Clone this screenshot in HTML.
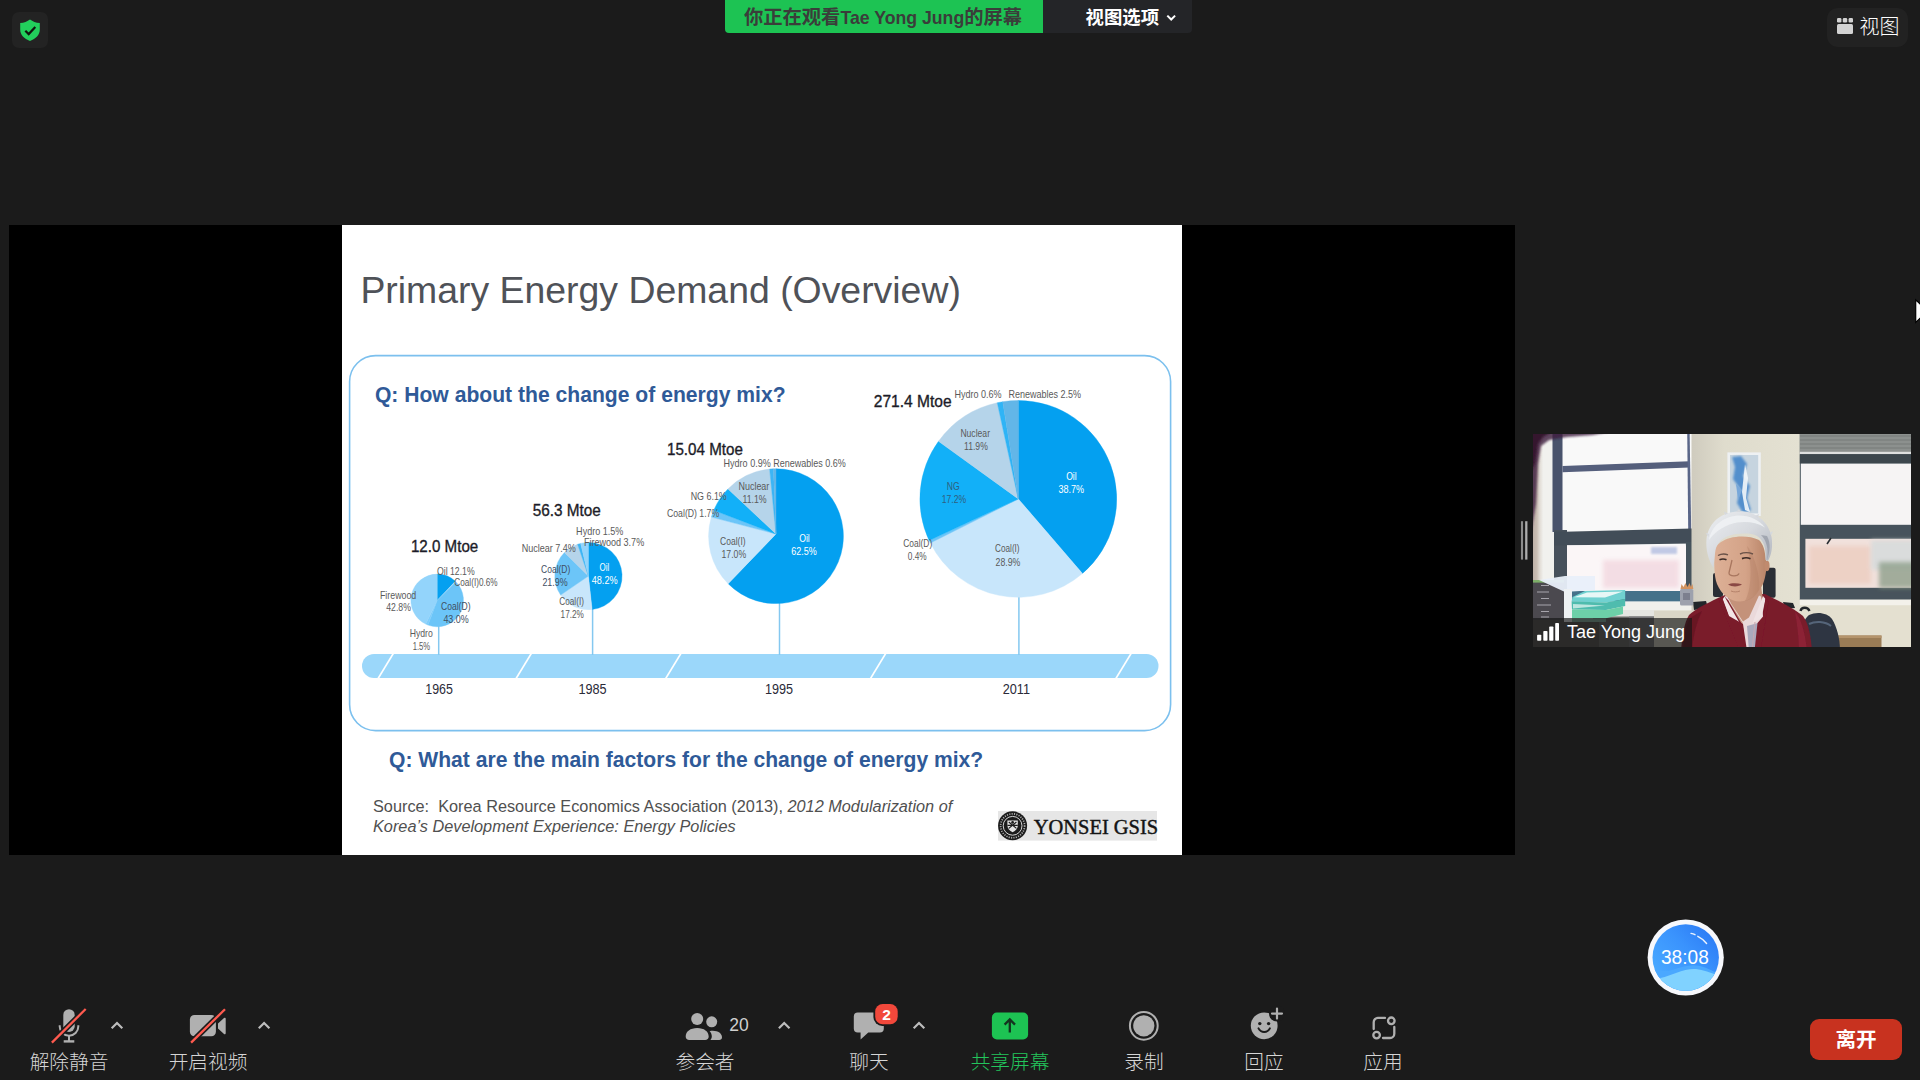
<!DOCTYPE html>
<html lang="zh-CN">
<head>
<meta charset="utf-8">
<title>Zoom Meeting</title>
<style>
html,body{margin:0;padding:0;}
body{width:1920px;height:1080px;overflow:hidden;background:#1b1b1b;position:relative;
 font-family:"Liberation Sans","Noto Sans CJK SC",sans-serif;color:#ccc;}
.abs{position:absolute;}
#share{left:9px;top:225px;width:1506px;height:630px;background:#000;}
#slide{left:342px;top:225px;width:840px;height:630px;background:#fff;}
svg{position:absolute;left:0;top:0;overflow:visible;}
svg text{font-family:"Liberation Sans","Noto Sans CJK SC",sans-serif;white-space:pre;}
.lbl{position:absolute;top:1048.2px;height:28px;line-height:28px;font-size:19.7px;color:#d6d6d6;white-space:nowrap;text-align:center;font-weight:300;}
#banner{left:725px;top:0;width:318px;height:33px;background:#1dc353;border-radius:0 0 0 4px;color:#3a3d3a;font-weight:bold;font-size:19.3px;line-height:33px;white-space:nowrap;}
#banner span{position:absolute;left:19px;top:1px;}
#banner span b{font-size:17.7px;}
#vopt{left:1043px;top:0;width:149px;height:33px;background:#242528;border-radius:0 0 4px 0;color:#fff;font-weight:bold;font-size:18.4px;line-height:33px;white-space:nowrap;}
#vopt span{position:absolute;left:42.500px;top:1px;}
#sec{left:12px;top:12px;width:36px;height:36px;border-radius:7px;background:#232323;}
#viewbtn{left:1827px;top:8px;width:81px;height:39px;border-radius:11px;background:#222;color:#fff;font-size:20px;line-height:36px;font-weight:300;}
#viewbtn span{position:absolute;left:32.500px;top:0.500px;}
#leave{left:1810px;top:1019px;width:92px;height:41px;border-radius:9px;background:#c8321f;color:#fff;font-weight:bold;font-size:20.6px;line-height:42.500px;text-align:center;}
#vname{left:1533px;top:617.6px;width:159px;height:29.4px;background:rgba(22,22,22,0.66);}
#vname span{position:absolute;left:34px;top:0.5px;line-height:28px;font-size:18px;color:#fff;white-space:nowrap;}
#timer{left:1647px;top:919px;width:77px;height:77px;border-radius:50%;background:#eef1f8;}
#timer i{position:absolute;left:5px;top:5px;width:67px;height:67px;border-radius:50%;overflow:hidden;background:linear-gradient(160deg,#4a9bff 0%,#2f80f6 60%,#3d8cf8 100%);}
#timer b{position:absolute;left:0;top:0;width:77px;line-height:77px;text-align:center;font-weight:400;font-size:18.5px;color:#fff;}
</style>
</head>
<body>
<div id="share" class="abs"></div>
<div id="slide" class="abs"></div>

<!-- slide content, page coordinates -->
<svg width="1920" height="1080" viewBox="0 0 1920 1080">
<text x="360.4" y="303" font-size="37.4" fill="#4f5258">Primary Energy Demand (Overview)</text>
<rect x="349.6" y="355.6" width="821" height="375" rx="26" ry="26" fill="#fff" stroke="#7cc0ee" stroke-width="1.6"/>
<text x="374.900" y="401.900" font-size="22.600" font-weight="bold" fill="#2f5a98" textLength="410.700" lengthAdjust="spacingAndGlyphs">Q: How about the change of energy mix?</text>
<text x="389" y="766.500" font-size="22.600" font-weight="bold" fill="#2f5a98" textLength="594.200" lengthAdjust="spacingAndGlyphs">Q: What are the main factors for the change of energy mix?</text>
<text x="373" y="812" font-size="16.3" fill="#505050">Source:  Korea Resource Economics Association (2013), <tspan font-style="italic">2012 Modularization of</tspan></text>
<text x="373" y="831.8" font-size="16.3" font-style="italic" fill="#505050">Korea’s Development Experience: Energy Policies</text>
<!-- timeline -->
<rect x="362" y="654" width="796.5" height="24" rx="12" fill="#9bd7fa"/>
<path d="M393.6 653L377.8 679" stroke="#fff" stroke-width="1.6"/>
<path d="M531.6 653L515.8 679" stroke="#fff" stroke-width="1.6"/>
<path d="M681.2 653L665.4 679" stroke="#fff" stroke-width="1.6"/>
<path d="M886.0 653L870.2 679" stroke="#fff" stroke-width="1.6"/>
<path d="M1131.4 653L1115.6 679" stroke="#fff" stroke-width="1.6"/>
<path d="M438.7 626V655" stroke="#84c8f0" stroke-width="1.5"/>
<path d="M592.6 609V655" stroke="#84c8f0" stroke-width="1.5"/>
<path d="M779.5 603V655" stroke="#84c8f0" stroke-width="1.5"/>
<path d="M1018.9 597V655" stroke="#84c8f0" stroke-width="1.5"/>
<path d="M437.2 600.4L437.20 574.10A26.3 26.3 0 0 1 455.32 581.34Z" fill="#04a0f0" stroke="#04a0f0" stroke-width="0.4"/>
<path d="M437.2 600.4L455.32 581.34A26.3 26.3 0 0 1 456.03 582.04Z" fill="#a8dcfb" stroke="#a8dcfb" stroke-width="0.4"/>
<path d="M437.2 600.4L456.03 582.04A26.3 26.3 0 0 1 427.98 625.03Z" fill="#6cc5f8" stroke="#6cc5f8" stroke-width="0.4"/>
<path d="M437.2 600.4L427.98 625.03A26.3 26.3 0 0 1 425.70 624.05Z" fill="#7fcdfb" stroke="#7fcdfb" stroke-width="0.4"/>
<path d="M437.2 600.4L425.70 624.05A26.3 26.3 0 0 1 437.20 574.10Z" fill="#93d4fb" stroke="#93d4fb" stroke-width="0.4"/>
<path d="M588.4 576.1L588.40 542.50A33.6 33.6 0 0 1 592.09 609.50Z" fill="#04a0f0" stroke="#04a0f0" stroke-width="0.4"/>
<path d="M588.4 576.1L592.09 609.50A33.6 33.6 0 0 1 560.65 595.05Z" fill="#c8e6fb" stroke="#c8e6fb" stroke-width="0.4"/>
<path d="M588.4 576.1L560.65 595.05A33.6 33.6 0 0 1 564.47 552.51Z" fill="#6cc5f8" stroke="#6cc5f8" stroke-width="0.4"/>
<path d="M588.4 576.1L564.47 552.51A33.6 33.6 0 0 1 577.61 544.28Z" fill="#b5d4ea" stroke="#b5d4ea" stroke-width="0.4"/>
<path d="M588.4 576.1L577.61 544.28A33.6 33.6 0 0 1 580.65 543.41Z" fill="#3db5f5" stroke="#3db5f5" stroke-width="0.4"/>
<path d="M588.4 576.1L580.65 543.41A33.6 33.6 0 0 1 588.40 542.50Z" fill="#93d4fb" stroke="#93d4fb" stroke-width="0.4"/>
<path d="M776.0 534.0L776.00 468.80A67.4 67.4 0 1 1 728.15 583.67Z" fill="#04a0f0" stroke="#04a0f0" stroke-width="0.4"/>
<path d="M776.0 534.0L728.15 583.67A67.4 67.4 0 0 1 711.37 517.07Z" fill="#c8e6fb" stroke="#c8e6fb" stroke-width="0.4"/>
<path d="M776.0 534.0L711.37 517.07A67.4 67.4 0 0 1 713.78 510.28Z" fill="#6cc5f8" stroke="#6cc5f8" stroke-width="0.4"/>
<path d="M776.0 534.0L713.78 510.28A67.4 67.4 0 0 1 728.00 488.88Z" fill="#12b0f8" stroke="#12b0f8" stroke-width="0.4"/>
<path d="M776.0 534.0L728.00 488.88A67.4 67.4 0 0 1 769.65 469.10Z" fill="#b5d4ea" stroke="#b5d4ea" stroke-width="0.4"/>
<path d="M776.0 534.0L769.65 469.10A67.4 67.4 0 0 1 773.46 468.85Z" fill="#3db5f5" stroke="#3db5f5" stroke-width="0.4"/>
<path d="M776.0 534.0L773.46 468.85A67.4 67.4 0 0 1 776.00 468.80Z" fill="#62b6e8" stroke="#62b6e8" stroke-width="0.4"/>
<path d="M1018.3 498.9L1018.30 400.50A98.4 98.4 0 0 1 1082.44 573.52Z" fill="#04a0f0" stroke="#04a0f0" stroke-width="0.4"/>
<path d="M1018.3 498.9L1082.44 573.52A98.4 98.4 0 0 1 930.35 543.02Z" fill="#c8e6fb" stroke="#c8e6fb" stroke-width="0.4"/>
<path d="M1018.3 498.9L930.35 543.02A98.4 98.4 0 0 1 929.13 540.52Z" fill="#6cc5f8" stroke="#6cc5f8" stroke-width="0.4"/>
<path d="M1018.3 498.9L929.13 540.52A98.4 98.4 0 0 1 938.51 441.31Z" fill="#12b0f8" stroke="#12b0f8" stroke-width="0.4"/>
<path d="M1018.3 498.9L938.51 441.31A98.4 98.4 0 0 1 997.26 402.78Z" fill="#b5d4ea" stroke="#b5d4ea" stroke-width="0.4"/>
<path d="M1018.3 498.9L997.26 402.78A98.4 98.4 0 0 1 1002.72 401.74Z" fill="#2fb4f6" stroke="#2fb4f6" stroke-width="0.4"/>
<path d="M1018.3 498.9L1002.72 401.74A98.4 98.4 0 0 1 1018.30 400.50Z" fill="#62b6e8" stroke="#62b6e8" stroke-width="0.4"/>
<g>
<text x="410.9" y="551.7" textLength="67.4" lengthAdjust="spacingAndGlyphs" font-size="16.5" fill="#1c1c28" stroke="#1c1c28" stroke-width="0.35">12.0 Mtoe</text>
<text x="532.7" y="516.4" textLength="68.1" lengthAdjust="spacingAndGlyphs" font-size="16.5" fill="#1c1c28" stroke="#1c1c28" stroke-width="0.35">56.3 Mtoe</text>
<text x="667.0" y="454.6" textLength="75.9" lengthAdjust="spacingAndGlyphs" font-size="16.5" fill="#1c1c28" stroke="#1c1c28" stroke-width="0.35">15.04 Mtoe</text>
<text x="873.8" y="406.7" textLength="77.8" lengthAdjust="spacingAndGlyphs" font-size="16.5" fill="#1c1c28" stroke="#1c1c28" stroke-width="0.35">271.4 Mtoe</text>
<text x="425.3" y="694.2" textLength="27.6" lengthAdjust="spacingAndGlyphs" font-size="14.5" fill="#2a2a38">1965</text>
<text x="578.4" y="694.2" textLength="28.2" lengthAdjust="spacingAndGlyphs" font-size="14.5" fill="#2a2a38">1985</text>
<text x="765.0" y="694.2" textLength="28.1" lengthAdjust="spacingAndGlyphs" font-size="14.5" fill="#2a2a38">1995</text>
<text x="1002.7" y="694.2" textLength="27.3" lengthAdjust="spacingAndGlyphs" font-size="14.5" fill="#2a2a38">2011</text>
<text x="437.0" y="575.1" textLength="37.7" lengthAdjust="spacingAndGlyphs" font-size="10.3" fill="#5a5a5a">Oil 12.1%</text>
<text x="454.3" y="585.6" textLength="43.3" lengthAdjust="spacingAndGlyphs" font-size="10.3" fill="#5a5a5a">Coal(I)0.6%</text>
<text x="379.9" y="598.6" textLength="36.4" lengthAdjust="spacingAndGlyphs" font-size="10.3" fill="#5a5a5a">Firewood</text>
<text x="386.3" y="611.3" textLength="24.6" lengthAdjust="spacingAndGlyphs" font-size="10.3" fill="#5a5a5a">42.8%</text>
<text x="441.0" y="609.5" textLength="29.5" lengthAdjust="spacingAndGlyphs" font-size="10.3" fill="#3f4f63">Coal(D)</text>
<text x="443.4" y="622.7" textLength="25.3" lengthAdjust="spacingAndGlyphs" font-size="10.3" fill="#3f4f63">43.0%</text>
<text x="409.7" y="637.1" textLength="23.1" lengthAdjust="spacingAndGlyphs" font-size="10.3" fill="#5a5a5a">Hydro</text>
<text x="412.7" y="650.4" textLength="17.5" lengthAdjust="spacingAndGlyphs" font-size="10.3" fill="#5a5a5a">1.5%</text>
<text x="576.1" y="534.5" textLength="47.3" lengthAdjust="spacingAndGlyphs" font-size="10.3" fill="#5a5a5a">Hydro 1.5%</text>
<text x="583.9" y="546.2" textLength="60.3" lengthAdjust="spacingAndGlyphs" font-size="10.3" fill="#5a5a5a">Firewood 3.7%</text>
<text x="521.7" y="552.0" textLength="54.2" lengthAdjust="spacingAndGlyphs" font-size="10.3" fill="#5a5a5a">Nuclear 7.4%</text>
<text x="541.1" y="572.8" textLength="29.2" lengthAdjust="spacingAndGlyphs" font-size="10.3" fill="#3f4f63">Coal(D)</text>
<text x="542.4" y="585.8" textLength="25.3" lengthAdjust="spacingAndGlyphs" font-size="10.3" fill="#3f4f63">21.9%</text>
<text x="599.5" y="570.8" textLength="9.7" lengthAdjust="spacingAndGlyphs" font-size="10.3" fill="#fff">Oil</text>
<text x="591.7" y="583.8" textLength="25.9" lengthAdjust="spacingAndGlyphs" font-size="10.3" fill="#fff">48.2%</text>
<text x="559.3" y="604.6" textLength="24.6" lengthAdjust="spacingAndGlyphs" font-size="10.3" fill="#5a5a5a">Coal(I)</text>
<text x="560.6" y="617.5" textLength="23.3" lengthAdjust="spacingAndGlyphs" font-size="10.3" fill="#5a5a5a">17.2%</text>
<text x="723.6" y="466.6" textLength="122.2" lengthAdjust="spacingAndGlyphs" font-size="10.3" fill="#5a5a5a">Hydro 0.9% Renewables 0.6%</text>
<text x="738.5" y="490.1" textLength="30.8" lengthAdjust="spacingAndGlyphs" font-size="10.3" fill="#5a5a5a">Nuclear</text>
<text x="742.4" y="503.0" textLength="24.3" lengthAdjust="spacingAndGlyphs" font-size="10.3" fill="#5a5a5a">11.1%</text>
<text x="690.7" y="500.3" textLength="36.1" lengthAdjust="spacingAndGlyphs" font-size="10.3" fill="#5a5a5a">NG 6.1%</text>
<text x="667.0" y="517.0" textLength="52.2" lengthAdjust="spacingAndGlyphs" font-size="10.3" fill="#5a5a5a">Coal(D) 1.7%</text>
<text x="720.0" y="545.2" textLength="25.6" lengthAdjust="spacingAndGlyphs" font-size="10.3" fill="#5a5a5a">Coal(I)</text>
<text x="721.5" y="558.0" textLength="24.6" lengthAdjust="spacingAndGlyphs" font-size="10.3" fill="#5a5a5a">17.0%</text>
<text x="799.2" y="541.7" textLength="10.6" lengthAdjust="spacingAndGlyphs" font-size="10.3" fill="#fff">Oil</text>
<text x="791.3" y="554.9" textLength="25.5" lengthAdjust="spacingAndGlyphs" font-size="10.3" fill="#fff">62.5%</text>
<text x="954.4" y="398.2" textLength="47.2" lengthAdjust="spacingAndGlyphs" font-size="10.3" fill="#5a5a5a">Hydro 0.6%</text>
<text x="1008.4" y="398.2" textLength="72.7" lengthAdjust="spacingAndGlyphs" font-size="10.3" fill="#5a5a5a">Renewables 2.5%</text>
<text x="960.4" y="436.7" textLength="29.6" lengthAdjust="spacingAndGlyphs" font-size="10.3" fill="#5a5a5a">Nuclear</text>
<text x="964.0" y="449.6" textLength="23.8" lengthAdjust="spacingAndGlyphs" font-size="10.3" fill="#5a5a5a">11.9%</text>
<text x="946.7" y="490.0" textLength="12.9" lengthAdjust="spacingAndGlyphs" font-size="10.3" fill="#2f5f80">NG</text>
<text x="941.8" y="503.3" textLength="24.4" lengthAdjust="spacingAndGlyphs" font-size="10.3" fill="#2f5f80">17.2%</text>
<text x="1066.2" y="479.6" textLength="10.5" lengthAdjust="spacingAndGlyphs" font-size="10.3" fill="#fff">Oil</text>
<text x="1058.4" y="492.7" textLength="25.6" lengthAdjust="spacingAndGlyphs" font-size="10.3" fill="#fff">38.7%</text>
<text x="995.1" y="552.2" textLength="24.5" lengthAdjust="spacingAndGlyphs" font-size="10.3" fill="#5a5a5a">Coal(I)</text>
<text x="995.6" y="565.6" textLength="24.8" lengthAdjust="spacingAndGlyphs" font-size="10.3" fill="#5a5a5a">28.9%</text>
<text x="903.3" y="547.1" textLength="28.9" lengthAdjust="spacingAndGlyphs" font-size="10.3" fill="#5a5a5a">Coal(D)</text>
<text x="907.8" y="560.0" textLength="18.9" lengthAdjust="spacingAndGlyphs" font-size="10.3" fill="#5a5a5a">0.4%</text>
</g>
<!-- logo -->
<rect x="998" y="811" width="159" height="29.6" fill="#e6e6e6"/>
<circle cx="1012.6" cy="825.8" r="14.5" fill="#1c1c1c"/>
<circle cx="1012.6" cy="825.8" r="12" fill="none" stroke="#d8d8d8" stroke-width="1.7" stroke-dasharray="1.1 1.3" opacity=".8"/>
<circle cx="1012.6" cy="825.8" r="9.4" fill="none" stroke="#e8e8e8" stroke-width="0.9"/>
<path d="M1007.4 820.4h10.400v4.800c0 3.300-2.200 5.500-5.200 7c-3-1.500-5.200-3.700-5.200-7z" fill="#e4e4e4"/>
<path d="M1008.8 822l7.600 6.400M1016.400 822l-7.600 6.400M1007.4 825.400h10.400" stroke="#1c1c1c" stroke-width="1.200"/>
<circle cx="1012.6" cy="822.400" r="1.400" fill="#1c1c1c"/>
<text x="1033.700" y="833.900" font-size="21.800" style="font-family:'Liberation Serif',serif" fill="#141414" stroke="#141414" stroke-width="0.450" textLength="124.500" lengthAdjust="spacingAndGlyphs">YONSEI GSIS</text>
</svg>

<!-- top bar -->
<div id="sec" class="abs"></div>
<div id="banner" class="abs"><span>你正在观看<b>Tae Yong Jung</b>的屏幕</span></div>
<div id="vopt" class="abs"><span>视图选项</span></div>
<div id="viewbtn" class="abs"><span>视图</span></div>



<!-- video thumbnail -->
<svg style="left:1533px;top:434px" width="378" height="213" viewBox="0 0 378 213">
<defs><filter id="vb" x="-2%" y="-2%" width="104%" height="104%"><feGaussianBlur stdDeviation="0.75"/></filter>
<filter id="vb2" x="-20%" y="-20%" width="140%" height="140%"><feGaussianBlur stdDeviation="2.2"/></filter>
<filter id="vb3" x="-20%" y="-20%" width="140%" height="140%"><feGaussianBlur stdDeviation="1.2"/></filter>
<clipPath id="vc"><rect x="0" y="0" width="378" height="213"/></clipPath>
<linearGradient id="lw" x1="0" y1="0" x2="1" y2="0"><stop offset="0" stop-color="#b3a49c"/><stop offset="0.3" stop-color="#c9beb3"/><stop offset="0.42" stop-color="#e2ddd6"/><stop offset="0.55" stop-color="#f1f1ee"/><stop offset="1" stop-color="#f1f1ee"/></linearGradient>
<linearGradient id="fc" x1="0" y1="0" x2="1" y2="0"><stop offset="0" stop-color="#ddb096"/><stop offset="0.6" stop-color="#d4a388"/><stop offset="1" stop-color="#b98569"/></linearGradient>
<linearGradient id="hr" x1="0" y1="0" x2="1" y2="1"><stop offset="0" stop-color="#eceef1"/><stop offset="0.5" stop-color="#d6d9de"/><stop offset="1" stop-color="#adb1ba"/></linearGradient>
<linearGradient id="wl" x1="0" y1="0" x2="1" y2="0"><stop offset="0" stop-color="#cfcbbe"/><stop offset="0.3" stop-color="#dfdccd"/><stop offset="1" stop-color="#e4e1d2"/></linearGradient>
</defs>
<g clip-path="url(#vc)"><g filter="url(#vb)">
<rect x="-4" y="-4" width="386" height="221" fill="#e2dfce"/>
<!-- left wall strip -->
<rect x="-4" y="-4" width="26" height="160" fill="url(#lw)"/>
<!-- left window: glass -->
<rect x="21" y="-4" width="138" height="172" fill="#f9f9f9"/>
<!-- frames -->
<path d="M19.500 -4h10v102h-10z" fill="#48536c"/>
<path d="M21 96h13v72h-13z" fill="#46515b"/>
<path d="M29.500 32L156.500 27.300v6.200L29.500 38.200z" fill="#545e7c"/>
<path d="M154.200 -4h2.400l1.600 100h-3z" fill="#5a6688"/>
<path d="M21 98L159 94.600V109.500L21 111.400z" fill="#434e58"/>
<path d="M152.900 108h6.300v60h-6.300z" fill="#45525c"/>
<!-- bottom pane tint -->
<rect x="34" y="111.400" width="119" height="46" fill="#fbf6f7"/>
<rect x="70" y="126" width="76" height="28" fill="#f1d3dc" opacity=".7" filter="url(#vb2)"/>
<rect x="118" y="113" width="26" height="7" fill="#a9b7de" opacity=".7" filter="url(#vb3)"/>
<!-- bottom frame & sill -->
<rect x="21" y="157" width="138" height="10.600" fill="#44718a"/>
<rect x="21" y="167.600" width="140" height="9" fill="#f0f0ec"/>
<!-- top-left dark purple vignette -->
<path d="M-4 -4h90L60 1L34 3L16 6L8 12L5 30L3 70L-4 110z" fill="#3c1d3e" opacity=".8" filter="url(#vb3)"/>
<path d="M-4 -4h26L10 3L5 10L2 30L-4 40z" fill="#35152f" filter="url(#vb3)"/>
<!-- wall between windows -->
<rect x="158.500" y="-4" width="109" height="221" fill="url(#wl)"/>
<!-- picture -->
<rect x="194.400" y="18.400" width="33.400" height="63.600" fill="#eef1f3"/>
<rect x="197" y="21" width="28.200" height="58.400" fill="#c6d4df"/>
<path d="M199 23l9-1l6 8l-4 12l7 10l-3 12l4 12l-8 3l-6-10l3-14l-7-10l2-12z" fill="#3f83c9" opacity=".85" filter="url(#vb3)"/>
<path d="M212 30l3 14l-2 20l4 14l-5-2l-3-18z" fill="#f2f6fa" opacity=".9"/>
<path d="M203 50l6 6l-4 10z" fill="#78a8da"/>
<!-- right window -->
<rect x="266.800" y="-4" width="116" height="170" fill="#47535b"/>
<rect x="266.800" y="-4" width="116" height="22.500" fill="#8c908e"/>
<g stroke="#777b79" stroke-width="1"><path d="M267 2h112M267 6h112M267 10h112M267 14h112"/></g>
<rect x="266.800" y="17.800" width="116" height="2.400" fill="#dfe0df"/>
<rect x="266.800" y="20.200" width="116" height="9.400" fill="#3c474e"/>
<rect x="267.800" y="29.600" width="115" height="61.200" fill="#f6f4f4"/>
<rect x="272.400" y="104.800" width="110" height="49" fill="#f1e1dc"/>
<rect x="276" y="112" width="62" height="38" fill="#ebc4b4" opacity=".55" filter="url(#vb2)"/>
<rect x="338" y="106" width="46" height="30" fill="#d8dcdc" opacity=".9" filter="url(#vb2)"/>
<rect x="346" y="128" width="38" height="26" fill="#8fa08c" opacity=".8" filter="url(#vb2)"/>
<path d="M298 104l-4 6" stroke="#2a2f33" stroke-width="1.600"/>
<rect x="266.800" y="165.500" width="116" height="6" fill="#f3f1ea"/>
<rect x="266.800" y="171.500" width="116" height="46" fill="#e4e0d0"/>
<!-- wooden box -->
<rect x="304" y="201.500" width="44.500" height="14" fill="#9a7b57"/>
<rect x="304" y="201.500" width="44.500" height="2.500" fill="#b4946c"/>
<!-- bag -->
<path d="M267 217c0-12 1-30 9-36c8-4 19-2 23 4c5 8 8 20 8 32z" fill="#2f3642"/>
<path d="M276 190c6-3 16-3 22 2" stroke="#55657a" stroke-width="2" fill="none"/>
<path d="M267.500 177c1-4 7-4.500 9 0" fill="none" stroke="#22252b" stroke-width="2.400"/>
<!-- chair -->
<rect x="230" y="133.800" width="12.600" height="30" rx="2" fill="#2c2e34"/>
<rect x="180" y="139" width="10" height="24" rx="2" fill="#2c2e34"/>
<path d="M160 168l13-1l2 7l-14 2z" fill="#24262b"/>
<path d="M250 168l10 1l2 5l-10 1z" fill="#24262b"/>
<!-- pencil cup -->
<rect x="147" y="155" width="13.300" height="16.600" rx="1.500" fill="#9da1ad"/>
<rect x="150" y="159" width="7" height="7" fill="#7b7f8e"/>
<path d="M147.500 155l1-5l2 3l2-4l2 4l2-4l1.500 4l1.500-3l.8 5z" fill="#d3935f"/>
<!-- wall under sill, cabinet -->
<rect x="121" y="176.600" width="40" height="40" fill="#dad6c7"/>
<path d="M76 176h45v7h-45z" fill="#e5e5e1"/>
<path d="M60 182.500h61v35h-61z" fill="#6b6a67"/>
<path d="M96 182.500h25v35h-25z" fill="#77767a"/>
<!-- drawer unit -->
<rect x="-4" y="146.400" width="35" height="44" fill="#4c4a50"/>
<rect x="-4" y="146" width="35" height="2.600" fill="#7dae69"/>
<g stroke="#a6a4ac" stroke-width="1.100"><path d="M8 151.500h8M4 158h12M8 164.500h8M4 171h14M8 177.500h8M8 183h8"/></g>
<rect x="-4" y="186" width="70" height="31" fill="#545250"/>
<!-- documents & stand -->
<path d="M6 146l26-4l30 0v14l-30 2z" fill="#e9effa" opacity=".95"/>
<rect x="31" y="155" width="8" height="33" fill="#eef1f3"/>
<!-- trays -->
<path d="M52 157L92.200 156V165L73.200 168.600L38.600 167.600L39.500 163z" fill="#6fd1d0"/>
<path d="M54 158.500L90 157.600L72 163.500L41 163.300z" fill="#e6f7f6"/>
<path d="M38.600 167.600L73.200 168.600L92.200 165V172L73 176L39 175.600z" fill="#4fbcae"/>
<path d="M39 175.600L73 176L90 172.500V180L72 184.500L39 184.500z" fill="#6dd0a8"/>
<path d="M40 170l32 1.500l-32 3z" fill="#d8f0ec" opacity=".8"/>
<path d="M39 184.500h34v3.500h-34z" fill="#8bb8a8"/>
<!-- man: sweater -->
<path d="M148 217c1-14 3-28 8-36c6-6 22-14 36-20l40-1c12 6 28 14 38 22c6 8 8 22 9 35z" fill="#7a1a2c"/>
<path d="M150 217c0-10 2-24 7-33l12-7c-6 12-9 26-10 40z" fill="#681424"/>
<path d="M262 178c6 6 10 20 12 39h-8c0-14-2-28-4-39z" fill="#8c2236"/>
<!-- neck -->
<path d="M194 152h34l2 14l-12 22l-8 4l-14-24z" fill="#c4927a"/>
<!-- shirt -->
<path d="M191.500 162.500l4 4l14 22l3 28h12l6-30l-2.500-24l-2-1l-10 22l-6 4l-12-18l-4-8z" fill="#ead9da"/>
<path d="M191.500 162.500l-2 3l7 19l11 6z" fill="#f2e6e6"/>
<path d="M230 162l2.500 3l-4 19l-9 5z" fill="#efe2e3"/>
<path d="M214 192l2 25h6l3-28z" fill="#9a9cb4" opacity=".8"/>
<path d="M203 186l4 31M222 188l-3 29" stroke="#c7a9b2" stroke-width="1"/>
<!-- sweater V edges -->
<path d="M189 163l-3 4l21 50h7l-4-27l-14-8z" fill="#7a1a2c"/>
<path d="M232.500 163l3 5l-8 49h-6l3-28l6-7z" fill="#7a1a2c"/>
<!-- face -->
<path d="M182 116c-1.200 12-1 26 2 34c4 10 13 17.500 23 17.500s19-9 23-17.500c3-8 4.500-18 2.500-26c-.5-8-2.500-14-6.500-18c-12-6-30-4-38 2c-4 3-5.500 5-6 8z" fill="url(#fc)"/>
<ellipse cx="234" cy="132" rx="2.600" ry="5.200" fill="#c08a6e"/>
<path d="M214 112c6 6 14 30 12 44c-3 6-9 10-14 11c6-10 8-34 2-55z" fill="#b07a60" opacity=".35"/>
<!-- features -->
<path d="M185 121.500c3-1.600 7-1.800 10-.6M207 120c4-1.800 9-1.600 13 0" stroke="#6a5248" stroke-width="1.400" fill="none"/>
<path d="M186.500 125.800c2-.9 5-.9 7 0M209 124.600c2.500-1 6-1 8.500 .2" stroke="#3a2a26" stroke-width="1.700" fill="none"/>
<path d="M199 126c-1 5-2.500 10-3 13c0 2 2 2.800 5 2.800c2.500 0 4.500-.8 5-2.400" stroke="#a8765e" stroke-width="1.300" fill="none"/>
<path d="M195 150.500c3-1.600 9-1.800 14-.2c-3 2.600-10 3-14 .2z" fill="#8a4a44"/>
<path d="M198 157c3 1.200 6 1.200 9 0" stroke="#b5826a" stroke-width="1" fill="none"/>
<!-- hair -->
<path d="M180.500 134c-5-8-8-18-7-29c1.500-14 12-26 30-27.500c18-1.500 32 9.500 35 25.500c1.500 9 0 18-3.500 24l-2.500-1c.5-8-.5-15-3.500-19c-3-5-8-7-14-7.500c-8-.5-16 .5-22 3.500c-6 3-9.500 8-10.500 13c-1 6-1.500 13-2 18z" fill="url(#hr)"/>
<path d="M176 106c2-13 13-23 28-24.500c12-.5 22 4 28 12c-8-5-18-6.500-28-5c-11 2-21 8-28 17.500z" fill="#f0f2f5" opacity=".85"/>
<path d="M228 101c5 5 8 13 6 25c3-8 4-17 0-24z" fill="#979ca7" opacity=".8"/>
<path d="M203 78l3-3l2 3zM192 81l-1-3.500l4 2zM222 82l4-2l-1 4zM176 100l-3.500-1l3 4zM237 98l3-.5l-2 4z" fill="#d6d9de"/>
</g></g>
</svg>

<!-- video name -->
<div id="vname" class="abs"><span>Tae Yong Jung</span></div>
<!-- icons overlay -->
<svg width="1920" height="1080" viewBox="0 0 1920 1080">
<!-- shield -->
<path d="M30 19.400c2.600 2 6 3.300 9.800 3.600v6.600c0 5.400-4 9.200-9.800 11.400c-5.800-2.200-9.800-6-9.800-11.400v-6.600c3.800-.3 7.200-1.600 9.800-3.600z" fill="#22cf5c"/>
<path d="M25.300 30.700l3.400 3.400l6.600-7" fill="none" stroke="#10160f" stroke-width="2.200"/>
<!-- view icon -->
<g fill="#d2d2d2"><rect x="1837" y="18" width="4.400" height="4.400" rx="1.200"/><rect x="1842.800" y="18" width="4.400" height="4.400" rx="1.200"/><rect x="1848.600" y="18" width="4.400" height="4.400" rx="1.200"/><rect x="1837" y="24" width="16" height="10" rx="1.500"/></g>
<path d="M1167.300 15.600l3.900 3.900l3.900-3.900" fill="none" stroke="#fff" stroke-width="2"/>
<!-- separator handle -->
<path d="M1522 521.200v38.400" stroke="#8c8c8c" stroke-width="2.100"/><path d="M1526.300 521.200v38.400" stroke="#adadad" stroke-width="2.300"/>
<!-- cursor -->
<path d="M1915.700 299.800v22.600l5-4.800v-13z" fill="#fff" stroke="#000" stroke-width="1.200"/>
<!-- signal bars -->
<g fill="#fff"><rect x="1537.100" y="634.800" width="4.200" height="5.900" rx=".8"/><rect x="1543.300" y="630.900" width="4.200" height="9.800" rx=".8"/><rect x="1549.200" y="626.400" width="4.200" height="14.300" rx=".8"/><rect x="1555.200" y="622.900" width="3.800" height="17.800" rx=".8"/></g>
<!-- mic -->
<g fill="none" stroke="#b0b0b0" stroke-width="2">
<rect x="63.300" y="1009.200" width="11.400" height="22.800" rx="5.700" fill="#b0b0b0" stroke="none"/>
<path d="M59.700 1025.300v1.200a9.300 9.300 0 0 0 18.600 0v-1.200"/><path d="M69 1036v5"/><path d="M63.700 1041.400h10.600" stroke-width="2.400"/>
</g>
<path d="M85.900 1008.800L51.700 1042.800" stroke="#1b1b1b" stroke-width="5.500"/>
<path d="M85.700 1009L51.900 1042.600" stroke="#ff5a4f" stroke-width="2.300"/>
<!-- camera -->
<rect x="189.900" y="1015" width="26" height="21.300" rx="4.500" fill="#b0b0b0"/>
<path d="M218 1023.600l6-5.600a1 1 0 0 1 1.700 .8v14.400a1 1 0 0 1-1.700 .8l-6-5.600z" fill="#b0b0b0"/>
<path d="M225.200 1009L190.900 1042.800" stroke="#1b1b1b" stroke-width="5.500"/>
<path d="M225 1009.200L191.100 1042.600" stroke="#ff5a4f" stroke-width="2.300"/>
<!-- chevrons -->
<g fill="none" stroke="#bdbdbd" stroke-width="2.200">
<path d="M111.700 1028.200l5.300-5.200l5.300 5.200"/><path d="M258.800 1028.200l5.300-5.200l5.300 5.200"/><path d="M778.900 1028.200l5.300-5.200l5.300 5.200"/><path d="M913.700 1028.200l5.300-5.200l5.300 5.200"/>
</g>
<!-- participants -->
<g fill="#b0b0b0">
<circle cx="697.200" cy="1019" r="6"/><path d="M685.700 1036.500c0-5 4.600-8.500 11.500-8.500s11.500 3.500 11.500 8.500c0 2.200-1.400 3.400-3.600 3.400h-15.800c-2.200 0-3.600-1.200-3.600-3.400z"/>
<circle cx="711.700" cy="1021.800" r="5.500"/><path d="M709.600 1031.200c1-.3 2-.4 3.200-.4c5.400 0 9.200 2.800 9.200 6.400c0 1.800-1.100 2.700-2.900 2.700h-8.700c1-1 1.400-2.200 1.400-3.600c0-1.900-.8-3.700-2.200-5.100z"/>
</g>
<text x="729.200" y="1030.800" font-size="17.500" fill="#d0d0d0" style="font-family:'Liberation Sans',sans-serif">20</text>
<!-- chat -->
<path d="M857.800 1012.500h22a4 4 0 0 1 4 4v12a4 4 0 0 1-4 4h-11.500l-7.700 6.900v-6.900h-2.800a4 4 0 0 1-4-4v-12a4 4 0 0 1 4-4z" fill="#b0b0b0"/>
<rect x="873.400" y="1002.200" width="26" height="23.800" rx="9" fill="#1b1b1b"/>
<rect x="875.200" y="1004" width="22.500" height="20.200" rx="7.500" fill="#f2483b"/>
<text x="886.500" y="1020" font-size="15.500" font-weight="bold" fill="#fff" text-anchor="middle" style="font-family:'Liberation Sans',sans-serif">2</text>
<!-- share -->
<rect x="991.900" y="1012.500" width="36.200" height="26.900" rx="5" fill="#1dc353"/>
<path d="M1009.800 1032.600v-12.400M1004.600 1024.600l5.200-5.200l5.200 5.200" fill="none" stroke="#14331f" stroke-width="2.300"/>
<!-- record -->
<circle cx="1143.800" cy="1025.800" r="13.900" fill="none" stroke="#b0b0b0" stroke-width="2"/><circle cx="1143.800" cy="1025.800" r="10.600" fill="#b0b0b0"/>
<!-- reaction -->
<circle cx="1264.200" cy="1025.800" r="13.400" fill="#b0b0b0"/>
<circle cx="1277" cy="1013.600" r="8" fill="#1b1b1b"/>
<path d="M1277 1008.600v10M1272 1013.600h10" stroke="#b0b0b0" stroke-width="2.200" stroke-linecap="round"/>
<circle cx="1259.800" cy="1023.600" r="1.700" fill="#1b1b1b"/><circle cx="1268.600" cy="1023.600" r="1.700" fill="#1b1b1b"/>
<path d="M1258.500 1028.400c1.200 2.400 3.200 3.600 5.700 3.600s4.500-1.200 5.700-3.600" fill="none" stroke="#1b1b1b" stroke-width="2" stroke-linecap="round"/>
<!-- apps -->
<g fill="none" stroke="#b0b0b0" stroke-width="2.300" stroke-linecap="round">
<path d="M1385 1017.900h-7a4.300 4.300 0 0 0-4.300 4.300v6.800"/><path d="M1383 1038h7a4.300 4.300 0 0 0 4.300-4.300v-6.800"/>
<circle cx="1391.300" cy="1020.800" r="3.300"/><circle cx="1376.600" cy="1035.100" r="3.300"/>
</g>
</svg>


<!-- timer -->
<svg width="1920" height="1080" viewBox="0 0 1920 1080">
<defs>
<linearGradient id="tg" x1="0.15" y1="0.75" x2="0.85" y2="0.1"><stop offset="0" stop-color="#47a6ff"/><stop offset="0.55" stop-color="#3a93fd"/><stop offset="1" stop-color="#2d7df6"/></linearGradient>
<clipPath id="tc"><circle cx="1685.700" cy="957.500" r="33.200"/></clipPath>
</defs>
<circle cx="1685.700" cy="957.500" r="38.100" fill="#f7f8fc"/>
<circle cx="1685.700" cy="957.500" r="33.200" fill="url(#tg)"/>
<g clip-path="url(#tc)">
<path d="M1650 968c8 2 14 4 22 2c10-3 18-6 28-4c8 2 14 6 22 9v20h-72z" fill="#4aa8ff"/>
<path d="M1650 979c10 0 18-3 26-6c8-3 14-4.500 20-4c8 .8 16 4 26 8v20h-72z" fill="#80d2ff"/>
</g>
<path d="M1691 933.400q2.200 .4 4 1.300M1697.800 936.300q5.600 2.800 8.800 7.200" fill="none" stroke="#fff" stroke-width="1.400" stroke-linecap="round" opacity=".9"/>
<text x="1661" y="964.200" font-size="19.600" fill="#fff" textLength="47.800" lengthAdjust="spacingAndGlyphs" style="font-family:'Liberation Sans',sans-serif">38:08</text>
</svg>

<!-- toolbar labels -->
<div class="lbl" style="left:21px;width:96px;">解除静音</div>
<div class="lbl" style="left:160px;width:96px;">开启视频</div>
<div class="lbl" style="left:657px;width:96px;">参会者</div>
<div class="lbl" style="left:821px;width:96px;">聊天</div>
<div class="lbl" style="left:962px;width:96px;color:#23c55c;">共享屏幕</div>
<div class="lbl" style="left:1096px;width:96px;">录制</div>
<div class="lbl" style="left:1216px;width:96px;">回应</div>
<div class="lbl" style="left:1335px;width:96px;">应用</div>
<div id="leave" class="abs">离开</div>
</body>
</html>
